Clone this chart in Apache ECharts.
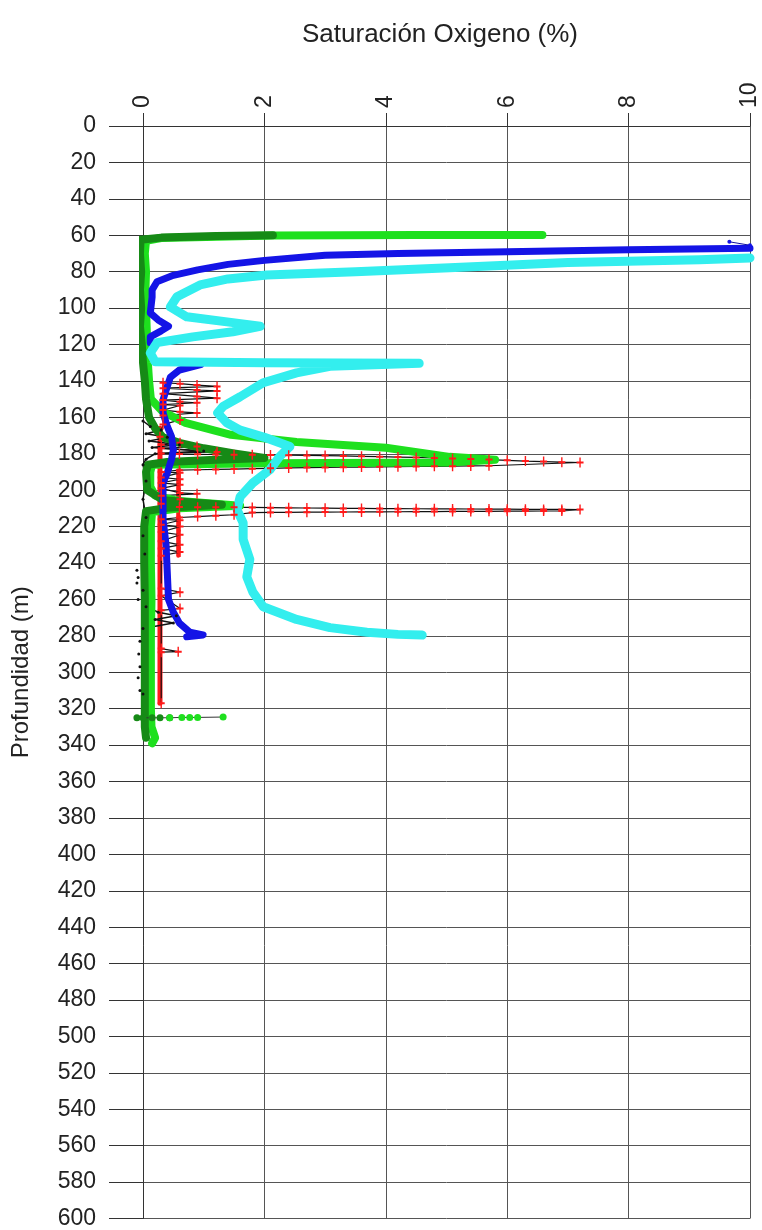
<!DOCTYPE html>
<html>
<head>
<meta charset="utf-8">
<script src="https://cdn.jsdelivr.net/npm/echarts@6/dist/echarts.min.js"></script>
<style>
html,body{margin:0;padding:0;background:#fff;}
#chart{width:762px;height:1230px;}
</style>
</head>
<body>
<div id="chart"></div>
<script>
// ---- Data: [saturation %, depth m] ----
const titleText = 'Saturación Oxigeno (%)';
const yName = 'Profundidad (m)';

const lightGreen = [
[6.58,59.8],[4.5,59.9],[2.14,60.2],[0.3,61.5],[0.05,63],[0.03,70],[0.05,80],[0.04,90],[0.05,100],[0.06,110],[0.07,120],[0.08,130],[0.1,140],[0.13,150],[0.33,157],[0.7,163],[1.45,169.6],[2.53,173.5],[4.0,176.7],[5.05,181.7],[5.8,183.3],[5.05,184.8],[2.04,185.2],[0.15,186],[0.12,190],[0.12,198],[0.2,203],[0.6,206],[1.6,208.5],[0.6,210],[0.15,212],[0.13,220],[0.13,240],[0.14,260],[0.13,280],[0.13,300],[0.13,320],[0.14,330],[0.2,336],[0.15,339]
];
const darkGreen = [
[2.14,60.0],[1.2,60.4],[0.3,61.3],[-0.04,62.5],[-0.05,70],[-0.03,80],[-0.05,90],[-0.03,100],[-0.05,110],[-0.02,120],[0.0,130],[0.03,140],[0.05,150],[0.1,160],[0.2,166],[0.33,171],[0.6,174],[1.0,177],[1.5,179.8],[2.0,182.3],[1.2,183.3],[0.4,184.5],[0.08,186],[0.05,190],[0.07,200],[0.33,205.5],[1.3,208],[0.4,209.7],[0.05,211.5],[0.02,220],[0.02,240],[0.03,260],[0.03,280],[0.03,300],[0.03,320],[0.03,330],[0.05,336]
];
const darkSpike = [[-0.1,325],[0.0,325],[0.15,325],[0.28,325],[0.44,325]];
const lightSpike = [[0.44,325],[0.64,324.8],[0.77,324.8],[0.9,324.8],[1.32,324.6]];

const blueUpper = [
[10,67.2],[8,68],[6,69],[4.2,70],[3.0,71],[2.0,73.8],[1.4,76],[0.9,79],[0.5,82],[0.23,85.5],[0.15,90],[0.15,94],[0.12,102.7],[0.25,106.5],[0.42,110],[0.3,112.5],[0.12,115.8],[0.12,119]
];
const blueLower = [
[0.95,131],[0.6,134],[0.45,138],[0.4,143],[0.33,150.5],[0.33,157.5],[0.4,165],[0.47,170.6],[0.5,178],[0.47,183],[0.4,190.5],[0.33,196],[0.33,201.5],[0.33,210],[0.33,216],[0.38,230],[0.4,245],[0.42,260],[0.5,267],[0.6,273],[0.77,278],[0.99,279.5],[0.72,280.5]
];
const blueStray = [[9.66,63.6],[10,65.5]];

const cyan = [
[10,72.5],[9.17,73.5],[7,75],[5.05,77.8],[3.5,80],[2.04,81.8],[1.4,84],[0.94,87.3],[0.56,93.8],[0.45,99.4],[0.72,104.8],[1.48,108],[1.93,110],[1.48,113],[0.82,115.8],[0.23,119],[0.12,124.6],[0.2,129.5],[2.0,130],[4.55,130.3],[3.08,132],[2.53,135.6],[1.98,141],[1.6,148.7],[1.32,154],[1.23,157.6],[1.38,163],[1.6,167],[2.0,171],[2.42,176],[2.25,181.6],[2.09,188.8],[1.81,196],[1.6,203.6],[1.55,210.8],[1.65,218],[1.65,227],[1.76,238],[1.71,247.6],[1.81,256],[1.98,264],[2.53,271],[3.08,275.5],[3.69,278],[4.2,279.2],[4.6,279.6]
];

const redBand = [[0.28,166],[0.28,317]];
const redBand2 = [[0.58,189],[0.58,236]];

const redMarks = [
[0.33,141],[0.61,141.5],[0.89,142.3],[1.22,143],[0.33,144],[0.89,145],[1.22,145.5],[0.33,147],[0.89,148.5],[1.22,149.5],[0.33,150.5],[0.61,151.5],[0.89,152],[0.33,153],[0.61,153.5],[0.33,156],[0.61,157],[0.89,157.6],[0.33,159],[0.61,161.4],[0.33,164],
[0.28,170.6],[0.61,174],[0.3,175],[0.89,176],[0.3,177],[1.22,179],[0.3,179.8],
[0.6,180.2],[0.9,180.3],[1.2,180.4],[1.5,180.5],[1.8,180.6],[2.1,180.7],[2.4,180.8],[2.7,180.9],[3.0,181.0],[3.3,181.2],[3.6,181.4],[3.9,181.6],[4.2,181.8],[4.5,182.0],[4.8,182.3],[5.1,182.6],[5.4,182.9],[5.7,183.2],[6.0,183.6],[6.3,184.0],[6.6,184.3],[6.9,184.6],[7.2,184.8],
[5.7,186.6],[5.4,186.7],[5.1,186.8],[4.8,186.9],[4.5,187.0],[4.2,187.1],[3.9,187.2],[3.6,187.3],[3.3,187.4],[3.0,187.5],[2.7,187.6],[2.4,187.8],[2.1,188.0],[1.8,188.2],[1.5,188.4],[1.2,188.6],[0.9,188.8],[0.6,189],
[0.3,190],[0.61,190.5],[0.3,193],[0.61,194],[0.3,196],[0.61,197],[0.3,199],[0.61,201.5],[0.89,202],[0.3,203],[0.61,205],[0.3,207.5],
[0.6,209.3],[0.9,209.35],[1.2,209.4],[1.5,209.45],[1.8,209.5],[2.1,209.6],[2.4,209.7],[2.7,209.8],[3.0,209.9],[3.3,210.0],[3.6,210.05],[3.9,210.1],[4.2,210.15],[4.5,210.2],[4.8,210.25],[5.1,210.3],[5.4,210.35],[5.7,210.4],[6.0,210.45],[6.3,210.5],[6.6,210.55],[6.9,210.6],[7.2,210.65],
[6.9,211.4],[6.6,211.45],[6.3,211.5],[6.0,211.55],[5.7,211.6],[5.4,211.65],[5.1,211.7],[4.8,211.75],[4.5,211.8],[4.2,211.85],[3.9,211.9],[3.6,211.95],[3.3,212.0],[3.0,212.05],[2.7,212.1],[2.4,212.15],[2.1,212.2],[1.8,212.3],
[1.5,213.5],[1.2,214],[0.9,214.5],[0.6,215],
[0.3,216],[0.61,216.5],[0.3,219],[0.61,220],[0.3,223],[0.61,224.5],[0.3,228],[0.61,230],[0.3,232],[0.61,234],[0.3,236],[0.3,254],[0.61,256],[0.3,258],[0.61,265],[0.3,266],[0.3,287],[0.58,288.7],[0.3,289],[0.3,317]
];

const blackTrace = [
[0.0,162],[0.12,165],[0.3,167],[0.05,169],[0.4,171],[0.1,173],[0.6,175],[0.15,176.5],[1.0,178.5],[0.2,180],[0.05,183],[0.0,186],[0.05,195],[0.0,205],[0.05,215],[0.0,225],[0.03,235],[-0.1,244],[-0.08,248],[-0.1,251],[0.0,255],[-0.08,260],[0.05,264],[0.25,267],[0.55,269],[0.2,271],[0.5,273],[0.0,276],[-0.05,283],[-0.07,290],[-0.05,297],[-0.08,303],[-0.05,310],[0,312]
];

// ---- Chart ----
const FONT = 'Liberation Sans, Arial, sans-serif';
const PLUS = 'path://M4,0h2v10h-2z M0,4h10v2h-10z';

function lineSeries(data, color, width, extra) {
  return Object.assign({
    type: 'line', data: data, showSymbol: false, symbol: 'none',
    lineStyle: {color: color, width: width, join: 'round', cap: 'round'},
    itemStyle: {color: color}, silent: true, animation: false
  }, extra || {});
}

const chart = echarts.init(document.getElementById('chart'), null, {renderer: 'canvas'});
chart.setOption({
  backgroundColor: '#ffffff',
  animation: false,
  title: {
    text: titleText, left: 297, top: 17,
    textStyle: {fontFamily: FONT, fontSize: 26, fontWeight: 'normal', color: '#222'}
  },
  grid: {left: 143, right: 12, top: 126, bottom: 11},
  xAxis: {
    type: 'value', position: 'top', min: 0, max: 10, interval: 2,
    axisLine: {show: true, lineStyle: {color: '#333', width: 1}},
    axisTick: {show: true, length: 13, lineStyle: {color: '#333'}},
    axisLabel: {rotate: 90, margin: 18, fontSize: 23, color: '#222', fontFamily: FONT},
    splitLine: {show: true, lineStyle: {color: '#555', width: 1}}
  },
  yAxis: {
    type: 'value', inverse: true, min: 0, max: 600, interval: 20,
    name: yName, nameLocation: 'middle', nameGap: 110,
    nameTextStyle: {fontFamily: FONT, fontSize: 24, color: '#222'},
    axisLine: {show: true, lineStyle: {color: '#333', width: 1}},
    axisTick: {show: true, length: 34, lineStyle: {color: '#333'}},
    axisLabel: {margin: 47, fontSize: 23, color: '#222', fontFamily: FONT},
    splitLine: {show: true, lineStyle: {color: '#555', width: 1}}
  },
  series: [
    lineSeries(redBand, '#ff1a1a', 5),
    lineSeries(redBand2, '#ff1a1a', 4),
    {
      type: 'line', data: redMarks, symbol: PLUS, symbolSize: [7, 10], showSymbol: true,
      lineStyle: {color: '#111', width: 1.2}, itemStyle: {color: '#ff1a1a'}, silent: true, animation: false
    },
    {
      type: 'line', data: blackTrace, symbol: 'circle', symbolSize: 3, showSymbol: true, clip: false,
      lineStyle: {color: '#111', width: 1.5}, itemStyle: {color: '#111'}, silent: true, animation: false
    },
    lineSeries(lightGreen, '#1ee01e', 8),
    lineSeries(darkGreen, '#168a16', 8, {clip: false}),
    {
      type: 'line', data: darkSpike, symbol: 'circle', symbolSize: 7, showSymbol: true, clip: false,
      lineStyle: {color: '#333', width: 1}, itemStyle: {color: '#168a16'}, silent: true, animation: false
    },
    {
      type: 'line', data: lightSpike, symbol: 'circle', symbolSize: 7, showSymbol: true,
      lineStyle: {color: '#333', width: 1}, itemStyle: {color: '#1ee01e'}, silent: true, animation: false
    },
    lineSeries(blueUpper, '#1414e6', 7),
    lineSeries(blueLower, '#1414e6', 7),
    {
      type: 'line', data: blueStray, symbol: 'circle', symbolSize: 4, showSymbol: true,
      lineStyle: {color: '#1414a0', width: 1}, itemStyle: {color: '#1414e6'}, silent: true, animation: false
    },
    lineSeries(cyan, '#33eeee', 9)
  ]
});
</script>
</body>
</html>
